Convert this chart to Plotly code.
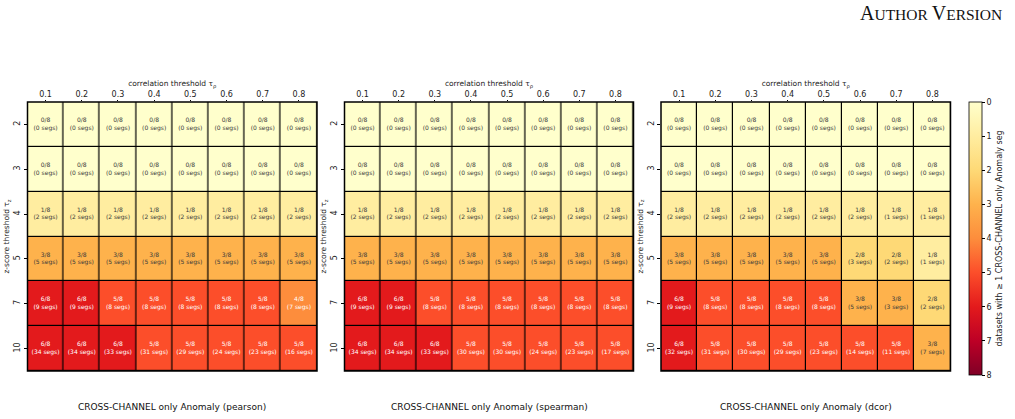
import plotly.graph_objects as go

# ---------------- data ----------------
corr_thresholds = ["0.1", "0.2", "0.3", "0.4", "0.5", "0.6", "0.7", "0.8"]
z_thresholds = ["2", "3", "4", "5", "7", "10"]
n_datasets = 8

pearson_datasets = [
    [0, 0, 0, 0, 0, 0, 0, 0],
    [0, 0, 0, 0, 0, 0, 0, 0],
    [1, 1, 1, 1, 1, 1, 1, 1],
    [3, 3, 3, 3, 3, 3, 3, 3],
    [6, 6, 5, 5, 5, 5, 5, 4],
    [6, 6, 6, 5, 5, 5, 5, 5],
]
pearson_segs = [
    [0, 0, 0, 0, 0, 0, 0, 0],
    [0, 0, 0, 0, 0, 0, 0, 0],
    [2, 2, 2, 2, 2, 2, 2, 2],
    [5, 5, 5, 5, 5, 5, 5, 5],
    [9, 9, 8, 8, 8, 8, 8, 7],
    [34, 34, 33, 31, 29, 24, 23, 16],
]
spearman_datasets = [
    [0, 0, 0, 0, 0, 0, 0, 0],
    [0, 0, 0, 0, 0, 0, 0, 0],
    [1, 1, 1, 1, 1, 1, 1, 1],
    [3, 3, 3, 3, 3, 3, 3, 3],
    [6, 6, 5, 5, 5, 5, 5, 5],
    [6, 6, 6, 5, 5, 5, 5, 5],
]
spearman_segs = [
    [0, 0, 0, 0, 0, 0, 0, 0],
    [0, 0, 0, 0, 0, 0, 0, 0],
    [2, 2, 2, 2, 2, 2, 2, 2],
    [5, 5, 5, 5, 5, 5, 5, 5],
    [9, 9, 8, 8, 8, 8, 8, 8],
    [34, 34, 33, 30, 30, 24, 23, 17],
]
dcor_datasets = [
    [0, 0, 0, 0, 0, 0, 0, 0],
    [0, 0, 0, 0, 0, 0, 0, 0],
    [1, 1, 1, 1, 1, 1, 1, 1],
    [3, 3, 3, 3, 3, 2, 2, 1],
    [6, 5, 5, 5, 5, 3, 3, 2],
    [6, 5, 5, 5, 5, 5, 5, 3],
]
dcor_segs = [
    [0, 0, 0, 0, 0, 0, 0, 0],
    [0, 0, 0, 0, 0, 0, 0, 0],
    [2, 2, 2, 2, 2, 2, 1, 1],
    [5, 5, 5, 5, 5, 3, 2, 1],
    [9, 8, 8, 8, 8, 5, 3, 2],
    [32, 31, 30, 29, 23, 14, 11, 7],
]
panel_titles = [
    "CROSS-CHANNEL only Anomaly (pearson)",
    "CROSS-CHANNEL only Anomaly (spearman)",
    "CROSS-CHANNEL only Anomaly (dcor)",
]
colorbar_title = "datasets with ≥ 1 CROSS-CHANNEL only Anomaly seg"
panels = [
    (pearson_datasets, pearson_segs),
    (spearman_datasets, spearman_segs),
    (dcor_datasets, dcor_segs),
]

# ---------------- style ----------------
W, H = 1015, 419
ylorrd = ["#ffffcc", "#ffeda0", "#fed976", "#feb24c", "#fd8d3c",
          "#fc4e2a", "#e31a1c", "#bd0026", "#800026"]
# z is plotted as negative so the colorbar shows 0 on top, 8 at bottom
cscale = [[i / 8, c] for i, c in enumerate(reversed(ylorrd))]

x_px = [(27.5, 317), (344.5, 633.5), (661, 950.5)]
y_top, y_bot = 102, 371
ydom = [1 - y_bot / H, 1 - y_top / H]
FONT = "DejaVu Sans"
cb_top, cb_len = 102, 273

fig = go.Figure()
for i, (ds, segs) in enumerate(panels):
    xa = "x" if i == 0 else f"x{i+1}"
    ya = "y" if i == 0 else f"y{i+1}"
    zneg = [[-v for v in row] for row in ds]
    fig.add_trace(go.Heatmap(
        x=corr_thresholds, y=z_thresholds, z=zneg,
        zmin=-n_datasets, zmax=0, colorscale=cscale,
        xgap=1.2, ygap=1.2, xaxis=xa, yaxis=ya,
        showscale=(i == 2), hoverinfo="skip",
        colorbar=dict(
            x=969 / W, xanchor="left", xpad=0, ypad=0,
            y=1 - cb_top / H, yanchor="top",
            len=cb_len, lenmode="pixels", thickness=12.5, thicknessmode="pixels",
            outlinewidth=0.8, outlinecolor="black",
            tickvals=[-v for v in range(n_datasets + 1)],
            ticktext=[str(v) for v in range(n_datasets + 1)],
            ticks="outside", ticklen=3, tickcolor="black",
            tickfont=dict(family=FONT, size=8, color="#222"),
        ) if i == 2 else None,
    ))
    xs, ys, txt, cols = [], [], [], []
    for r, zt in enumerate(z_thresholds):
        for c, ct in enumerate(corr_thresholds):
            xs.append(ct)
            ys.append(zt)
            txt.append(f"{ds[r][c]}/{n_datasets}<br>({segs[r][c]} segs)")
            cols.append("#ffffff" if ds[r][c] >= 4 else "#3a3a3a")
    fig.add_trace(go.Scatter(
        x=xs, y=ys, text=txt, mode="text", xaxis=xa, yaxis=ya,
        textfont=dict(family=FONT, size=6, color=cols),
        hoverinfo="skip", showlegend=False,
    ))
    x0, x1 = x_px[i]
    sfx = "" if i == 0 else str(i + 1)
    fig.update_layout(**{
        f"xaxis{sfx}": dict(
            domain=[x0 / W, x1 / W], anchor=ya, side="top", type="category",
            ticks="outside", ticklen=1, tickcolor="black",
            tickfont=dict(family=FONT, size=8, color="#222"),
            title=dict(text="correlation threshold τ<sub>ρ</sub>", standoff=0,
                       font=dict(family=FONT, size=7.5, color="#222")),
            showgrid=False, zeroline=False, fixedrange=True,
        ),
        f"yaxis{sfx}": dict(
            domain=ydom, anchor=xa, type="category", autorange="reversed",
            ticks="outside", ticklen=3, tickcolor="black", tickangle=-90,
            tickfont=dict(family=FONT, size=8, color="#222"),
            title=dict(text="z-score threshold τ<sub>z</sub>", standoff=2,
                       font=dict(family=FONT, size=7.5, color="#222")),
            showgrid=False, zeroline=False, fixedrange=True,
        ),
    })
    fig.add_shape(type="rect", xref=f"{xa} domain", yref=f"{ya} domain",
                  x0=0, x1=1, y0=0, y1=1, line=dict(color="black", width=1.5),
                  fillcolor="rgba(0,0,0,0)")
    fig.add_annotation(text=panel_titles[i], xref="paper", yref="paper",
                       x=(x0 + x1) / 2 / W, y=1 - 407 / H, showarrow=False,
                       xanchor="center", yanchor="middle",
                       font=dict(family=FONT, size=9, color="#111"))

fig.add_annotation(text=colorbar_title, xref="paper", yref="paper",
                   x=999 / W, y=1 - (cb_top + cb_len / 2) / H, textangle=-90,
                   showarrow=False, xanchor="center", yanchor="middle",
                   font=dict(family=FONT, size=8, color="#222"))

fig.add_annotation(
    text="<span style='font-size:20px'>A</span>UTHOR <span style='font-size:20px'>V</span>ERSION",
    xref="paper", yref="paper", x=1004 / W, y=1 - 13 / H, showarrow=False,
    xanchor="right", yanchor="middle",
    font=dict(family="Liberation Serif", size=15.5, color="#111"))

fig.update_layout(
    width=W, height=H, margin=dict(l=0, r=0, t=0, b=0),
    paper_bgcolor="white", plot_bgcolor="black", showlegend=False,
)
fig.write_html("out.html")
